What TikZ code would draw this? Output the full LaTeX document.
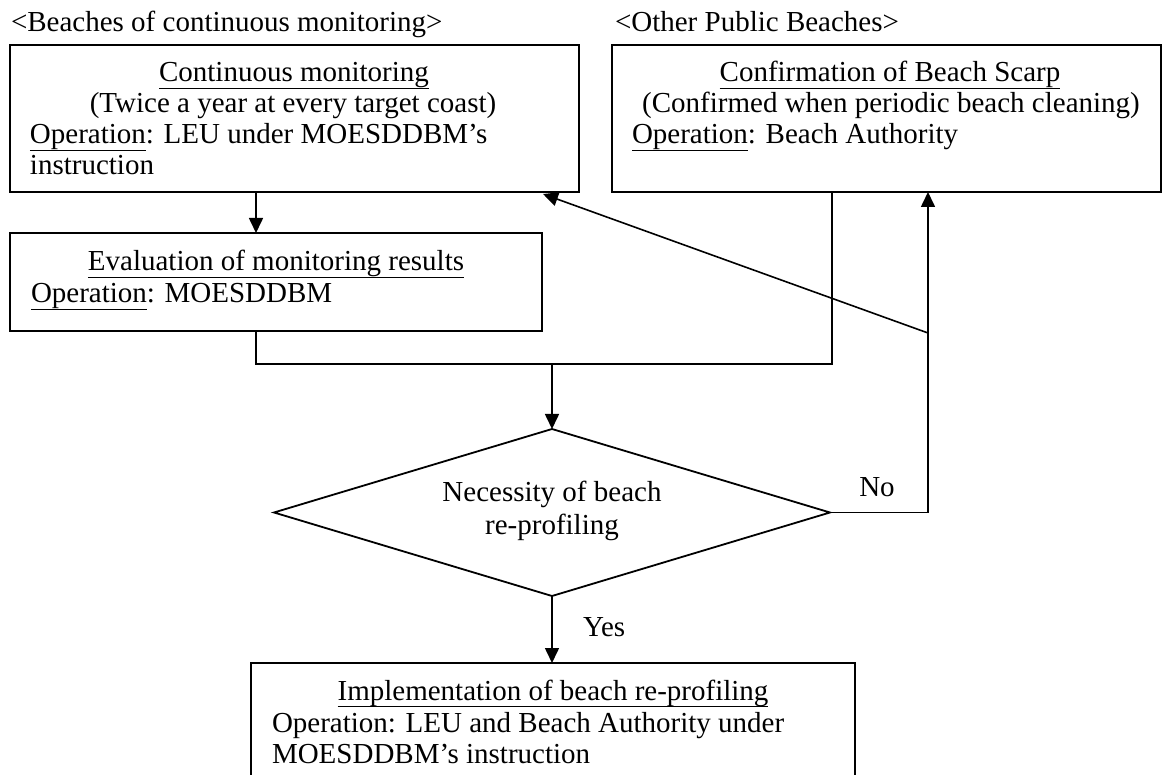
\documentclass[tikz,border=0pt]{standalone}
\usepackage{fontspec}
\setmainfont{Liberation Serif}
\usetikzlibrary{arrows.meta,shapes.geometric,calc}
\newcommand{\flowfont}{\fontsize{29}{31}\selectfont}
% underline drawn as a thin rule below the baseline
\newsavebox{\undlbox}
\newcommand{\undl}[1]{\sbox{\undlbox}{#1}\rlap{\vrule width\wd\undlbox height -5.6pt depth 7.3pt}\usebox{\undlbox}}
\begin{document}
\begin{tikzpicture}[x=1pt,y=-1pt,
  box/.style={draw, line width=1.8pt, inner sep=0pt, outer sep=0pt, anchor=north west},
  txt/.style={inner sep=0pt, outer sep=0pt, font=\flowfont},
  link/.style={line width=1.6pt},
  arr/.style={link, -{Triangle[length=15pt,width=14pt]}}]
\clip (0,0) rectangle (1163,775);
\fill[white] (0,0) rectangle (1163,775);

% group headings
\node[txt, anchor=base west] (h1) at (11,32) {<Beaches of continuous monitoring>};
\node[txt, anchor=base west] (h2) at (615,32) {<Other Public Beaches>};

% process boxes
\node[box, minimum width=569pt, minimum height=147pt] (mon) at (10,45) {};
\node[box, minimum width=549pt, minimum height=147pt] (conf) at (612,45) {};
\node[box, minimum width=532pt, minimum height=98pt] (eval) at (10,233) {};
\node[box, minimum width=604pt, minimum height=140pt] (impl) at (251,663) {};
\node[draw, diamond, line width=1.8pt, inner sep=0pt, outer sep=0pt,
      minimum width=556pt, minimum height=167pt] (dec) at (552,512.5) {};

% texts of the continuous monitoring box
\node[txt, anchor=base] (mon1) at (294,82) {\undl{Continuous monitoring}};
\node[txt, anchor=base] (mon2) at (293,113) {(Twice a year at every target coast)};
\node[txt, anchor=base west] (mon3) at (30,144) {\undl{Operation}: LEU under MOESDDBM’s};
\node[txt, anchor=base west] (mon4) at (30,175) {instruction};

% texts of the beach scarp box
\node[txt, anchor=base] (conf1) at (890,82) {\undl{Confirmation of Beach Scarp}};
\node[txt, anchor=base] (conf2) at (891,113) {(Confirmed when periodic beach cleaning)};
\node[txt, anchor=base west] (conf3) at (632,144) {\undl{Operation}: Beach Authority};

% texts of the evaluation box
\node[txt, anchor=base] (eval1) at (276,271) {\undl{Evaluation of monitoring results}};
\node[txt, anchor=base west] (eval2) at (31,303) {\undl{Operation}: MOESDDBM};

% decision text
\node[txt, anchor=base] (dec1) at (552,502) {Necessity of beach};
\node[txt, anchor=base] (dec2) at (552,535) {re-profiling};

% texts of the implementation box
\node[txt, anchor=base] (impl1) at (553,700) {\undl{Implementation of beach re-profiling}};
\node[txt, anchor=base west] (impl2) at (272,732) {Operation: LEU and Beach Authority under};
\node[txt, anchor=base west] (impl3) at (272,763) {MOESDDBM’s instruction};

% branch labels
\node[txt, anchor=base] (no) at (877,497) {No};
\node[txt, anchor=base west] (yes) at (583,636) {Yes};

% routing points
\coordinate (xl) at (256,0);
\coordinate (xr) at (832,0);
\coordinate (xn) at (928,0);
\coordinate (merge) at (552,364);
\coordinate (fork) at (928,333);
\coordinate (back) at (543,194);

% connectors
\draw[arr] (mon.south -| xl) -- (eval.north -| xl);
\draw[link] (eval.south -| xl) -- (xl |- merge) -- (xr |- merge) -- (conf.south -| xr);
\draw[arr] (merge) -- (dec.north);
\draw[arr] (dec.east) -- (dec.east -| xn) -- (conf.south -| xn);
\draw[arr] (fork) -- (back);
\draw[arr] (dec.south) -- (dec.south |- impl.north);
\end{tikzpicture}
\end{document}
